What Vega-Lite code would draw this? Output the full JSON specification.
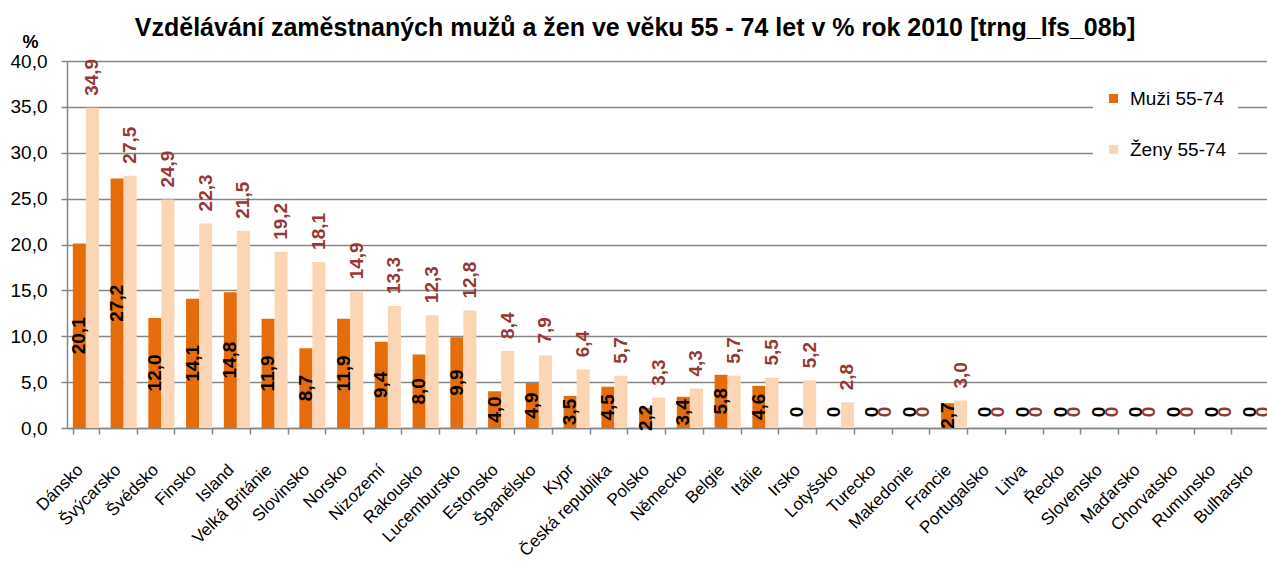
{
  "$schema": "https://vega.github.io/schema/vega-lite/v6.json",
  "autosize": "none",
  "padding": {"left": 67, "top": 61, "right": 0, "bottom": 137},
  "width": 1200,
  "height": 367,
  "background": "white",
  "config": {
    "locale": {"number": {"decimal": ",", "thousands": " ", "grouping": [3], "currency": ["", " Kč"]}},
    "font": "Liberation Sans",
    "view": {"stroke": null}
  },
  "title": {
    "text": "Vzdělávání zaměstnaných mužů a žen ve věku 55 - 74 let v % rok 2010 [trng_lfs_08b]",
    "font": "Liberation Sans",
    "fontSize": 25,
    "fontWeight": "bold",
    "color": "black",
    "anchor": "middle",
    "frame": "group",
    "dx": -32,
    "offset": -8
  },
  "data": {
    "values": [
      {"zeme": "Dánsko", "pohlavi": "Muži 55-74", "hodnota": 20.1},
      {"zeme": "Dánsko", "pohlavi": "Ženy 55-74", "hodnota": 34.9},
      {"zeme": "Švýcarsko", "pohlavi": "Muži 55-74", "hodnota": 27.2},
      {"zeme": "Švýcarsko", "pohlavi": "Ženy 55-74", "hodnota": 27.5},
      {"zeme": "Švédsko", "pohlavi": "Muži 55-74", "hodnota": 12.0},
      {"zeme": "Švédsko", "pohlavi": "Ženy 55-74", "hodnota": 24.9},
      {"zeme": "Finsko", "pohlavi": "Muži 55-74", "hodnota": 14.1},
      {"zeme": "Finsko", "pohlavi": "Ženy 55-74", "hodnota": 22.3},
      {"zeme": "Island", "pohlavi": "Muži 55-74", "hodnota": 14.8},
      {"zeme": "Island", "pohlavi": "Ženy 55-74", "hodnota": 21.5},
      {"zeme": "Velká Británie", "pohlavi": "Muži 55-74", "hodnota": 11.9},
      {"zeme": "Velká Británie", "pohlavi": "Ženy 55-74", "hodnota": 19.2},
      {"zeme": "Slovinsko", "pohlavi": "Muži 55-74", "hodnota": 8.7},
      {"zeme": "Slovinsko", "pohlavi": "Ženy 55-74", "hodnota": 18.1},
      {"zeme": "Norsko", "pohlavi": "Muži 55-74", "hodnota": 11.9},
      {"zeme": "Norsko", "pohlavi": "Ženy 55-74", "hodnota": 14.9},
      {"zeme": "Nizozemí", "pohlavi": "Muži 55-74", "hodnota": 9.4},
      {"zeme": "Nizozemí", "pohlavi": "Ženy 55-74", "hodnota": 13.3},
      {"zeme": "Rakousko", "pohlavi": "Muži 55-74", "hodnota": 8.0},
      {"zeme": "Rakousko", "pohlavi": "Ženy 55-74", "hodnota": 12.3},
      {"zeme": "Lucembursko", "pohlavi": "Muži 55-74", "hodnota": 9.9},
      {"zeme": "Lucembursko", "pohlavi": "Ženy 55-74", "hodnota": 12.8},
      {"zeme": "Estonsko", "pohlavi": "Muži 55-74", "hodnota": 4.0},
      {"zeme": "Estonsko", "pohlavi": "Ženy 55-74", "hodnota": 8.4},
      {"zeme": "Španělsko", "pohlavi": "Muži 55-74", "hodnota": 4.9},
      {"zeme": "Španělsko", "pohlavi": "Ženy 55-74", "hodnota": 7.9},
      {"zeme": "Kypr", "pohlavi": "Muži 55-74", "hodnota": 3.5},
      {"zeme": "Kypr", "pohlavi": "Ženy 55-74", "hodnota": 6.4},
      {"zeme": "Česká republika", "pohlavi": "Muži 55-74", "hodnota": 4.5},
      {"zeme": "Česká republika", "pohlavi": "Ženy 55-74", "hodnota": 5.7},
      {"zeme": "Polsko", "pohlavi": "Muži 55-74", "hodnota": 2.2},
      {"zeme": "Polsko", "pohlavi": "Ženy 55-74", "hodnota": 3.3},
      {"zeme": "Německo", "pohlavi": "Muži 55-74", "hodnota": 3.4},
      {"zeme": "Německo", "pohlavi": "Ženy 55-74", "hodnota": 4.3},
      {"zeme": "Belgie", "pohlavi": "Muži 55-74", "hodnota": 5.8},
      {"zeme": "Belgie", "pohlavi": "Ženy 55-74", "hodnota": 5.7},
      {"zeme": "Itálie", "pohlavi": "Muži 55-74", "hodnota": 4.6},
      {"zeme": "Itálie", "pohlavi": "Ženy 55-74", "hodnota": 5.5},
      {"zeme": "Irsko", "pohlavi": "Muži 55-74", "hodnota": 0},
      {"zeme": "Irsko", "pohlavi": "Ženy 55-74", "hodnota": 5.2},
      {"zeme": "Lotyšsko", "pohlavi": "Muži 55-74", "hodnota": 0},
      {"zeme": "Lotyšsko", "pohlavi": "Ženy 55-74", "hodnota": 2.8},
      {"zeme": "Turecko", "pohlavi": "Muži 55-74", "hodnota": 0},
      {"zeme": "Turecko", "pohlavi": "Ženy 55-74", "hodnota": 0},
      {"zeme": "Makedonie", "pohlavi": "Muži 55-74", "hodnota": 0},
      {"zeme": "Makedonie", "pohlavi": "Ženy 55-74", "hodnota": 0},
      {"zeme": "Francie", "pohlavi": "Muži 55-74", "hodnota": 2.7},
      {"zeme": "Francie", "pohlavi": "Ženy 55-74", "hodnota": 3.0},
      {"zeme": "Portugalsko", "pohlavi": "Muži 55-74", "hodnota": 0},
      {"zeme": "Portugalsko", "pohlavi": "Ženy 55-74", "hodnota": 0},
      {"zeme": "Litva", "pohlavi": "Muži 55-74", "hodnota": 0},
      {"zeme": "Litva", "pohlavi": "Ženy 55-74", "hodnota": 0},
      {"zeme": "Řecko", "pohlavi": "Muži 55-74", "hodnota": 0},
      {"zeme": "Řecko", "pohlavi": "Ženy 55-74", "hodnota": 0},
      {"zeme": "Slovensko", "pohlavi": "Muži 55-74", "hodnota": 0},
      {"zeme": "Slovensko", "pohlavi": "Ženy 55-74", "hodnota": 0},
      {"zeme": "Maďarsko", "pohlavi": "Muži 55-74", "hodnota": 0},
      {"zeme": "Maďarsko", "pohlavi": "Ženy 55-74", "hodnota": 0},
      {"zeme": "Chorvatsko", "pohlavi": "Muži 55-74", "hodnota": 0},
      {"zeme": "Chorvatsko", "pohlavi": "Ženy 55-74", "hodnota": 0},
      {"zeme": "Rumunsko", "pohlavi": "Muži 55-74", "hodnota": 0},
      {"zeme": "Rumunsko", "pohlavi": "Ženy 55-74", "hodnota": 0},
      {"zeme": "Bulharsko", "pohlavi": "Muži 55-74", "hodnota": 0},
      {"zeme": "Bulharsko", "pohlavi": "Ženy 55-74", "hodnota": 0}
    ]
  },
  "encoding": {
    "x": {
      "field": "zeme",
      "type": "nominal",
      "sort": null,
      "scale": {"range": [0, 1208], "paddingInner": 0.31, "paddingOuter": 0.155},
      "axis": {
        "title": null,
        "labelAngle": -45,
        "labelAlign": "right",
        "labelBaseline": "middle",
        "labelFont": "Liberation Sans",
        "labelFontSize": 17,
        "labelColor": "black",
        "labelPadding": 33,
        "labelOffset": -6,
        "labelOverlap": false,
        "labelLimit": 300,
        "tickBand": "extent",
        "tickSize": 6,
        "tickColor": "#868686",
        "tickWidth": 1.5,
        "domainColor": "#868686",
        "domainWidth": 1.5,
        "grid": false
      }
    },
    "xOffset": {"field": "pohlavi", "type": "nominal", "scale": {"domain": ["Muži 55-74", "Ženy 55-74"], "paddingInner": 0, "paddingOuter": 0}}
  },
  "layer": [
    {
      "mark": {"type": "bar"},
      "encoding": {
        "y": {
          "field": "hodnota",
          "type": "quantitative",
          "scale": {"domain": [0, 40], "nice": false},
          "axis": {
            "values": [0, 5, 10, 15, 20, 25, 30, 35, 40],
            "format": ".1f",
            "title": "%",
            "titleAngle": 0,
            "titleX": -37,
            "titleY": -19,
            "titleAlign": "center",
            "titleBaseline": "middle",
            "titleFont": "Liberation Sans",
            "titleFontSize": 18,
            "titleFontWeight": "bold",
            "titleColor": "black",
            "labelFont": "Liberation Sans",
            "labelFontSize": 19,
            "labelColor": "black",
            "labelPadding": 14,
            "tickSize": 6,
            "tickColor": "#868686",
            "tickWidth": 1.5,
            "domainColor": "#868686",
            "domainWidth": 1.5,
            "gridColor": "#868686",
            "gridWidth": 1.5
          }
        },
        "color": {
          "field": "pohlavi",
          "type": "nominal",
          "scale": {"domain": ["Muži 55-74", "Ženy 55-74"], "range": ["#E46C0A", "#FCD5B5"]},
          "legend": {
            "title": null,
            "orient": "none",
            "legendX": 1026,
            "legendY": 17,
            "fillColor": "white",
            "padding": 11,
            "symbolType": "square",
            "symbolSize": 81,
            "symbolStrokeWidth": 0,
            "labelFont": "Liberation Sans",
            "labelFontSize": 19,
            "labelColor": "black",
            "labelOffset": 7,
            "rowPadding": 31
          }
        }
      }
    },
    {
      "transform": [{"filter": "datum.pohlavi == 'Muži 55-74' && datum.hodnota > 0"}],
      "mark": {"type": "text", "angle": -90, "align": "center", "baseline": "middle", "font": "Liberation Sans", "fontSize": 19, "fontWeight": "bold", "color": "black"},
      "encoding": {
        "y": {"field": "hodnota", "type": "quantitative", "stack": "zero", "bandPosition": 0.5},
        "text": {"field": "hodnota", "type": "quantitative", "format": ".1f"}
      }
    },
    {
      "transform": [{"filter": "datum.pohlavi == 'Ženy 55-74' && datum.hodnota > 0"}],
      "mark": {"type": "text", "angle": -90, "align": "left", "baseline": "middle", "dx": 12, "font": "Liberation Sans", "fontSize": 19, "fontWeight": "bold", "color": "#953735"},
      "encoding": {
        "y": {"field": "hodnota", "type": "quantitative"},
        "text": {"field": "hodnota", "type": "quantitative", "format": ".1f"}
      }
    },
    {
      "transform": [{"filter": "datum.hodnota == 0"}],
      "mark": {"type": "text", "angle": -90, "align": "center", "baseline": "middle", "dx": 16, "font": "Liberation Sans", "fontSize": 19, "fontWeight": "bold"},
      "encoding": {
        "y": {"field": "hodnota", "type": "quantitative"},
        "text": {"field": "hodnota", "type": "quantitative", "format": "d"},
        "color": {"condition": {"test": "datum.pohlavi == 'Muži 55-74'", "value": "black"}, "value": "#953735"}
      }
    }
  ]
}
